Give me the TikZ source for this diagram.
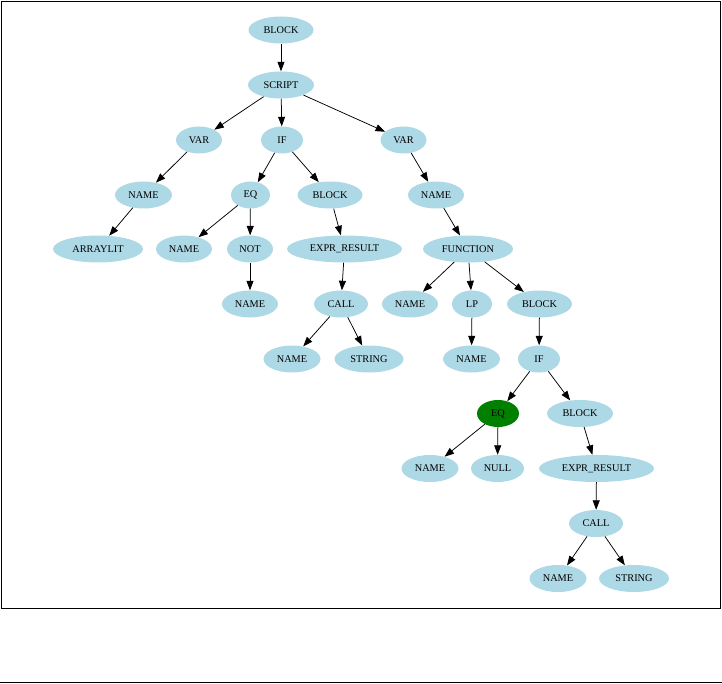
\documentclass[tikz,border=0pt]{standalone}
\usepackage{fontspec}
\setmainfont{Liberation Serif}
\usetikzlibrary{shapes.geometric,arrows.meta}
\definecolor{nodeblue}{HTML}{ADD8E6}
\definecolor{nodegreen}{HTML}{007F00}
\tikzset{
  tn/.style={ellipse, fill=nodeblue, draw=none, inner sep=0pt, minimum height=27pt, font=\fontsize{10.3}{12}\selectfont, text=black},
  gn/.style={tn, fill=nodegreen},
  edge/.style={draw=black, line width=0.75pt, -{Triangle[length=9.5pt,width=7pt]}},
}
\begin{document}
\begin{tikzpicture}[x=1pt,y=-1pt]
\useasboundingbox (0,0) rectangle (722,684);
\draw[line width=1.6pt] (1.5,1.5) rectangle (720.5,608.5);
\draw[line width=1.2pt] (0,682.5) -- (722,682.5);

\node[tn, minimum width=65pt] (b1) at (281,30) {BLOCK};
\node[tn, minimum width=66pt] (s) at (281,85) {SCRIPT};
\node[tn, minimum width=46pt] (v1) at (199,140) {VAR};
\node[tn, minimum width=42pt] (if1) at (282,140) {IF};
\node[tn, minimum width=46pt] (v2) at (403.5,140) {VAR};
\node[tn, minimum width=57pt] (n1) at (143.5,195) {NAME};
\node[tn, minimum width=39pt] (eq1) at (250.5,195) {EQ};
\node[tn, minimum width=65pt] (b2) at (330,195) {BLOCK};
\node[tn, minimum width=56pt] (n2) at (436,195) {NAME};
\node[tn, minimum width=90pt] (al) at (98,249) {ARRAYLIT};
\node[tn, minimum width=56pt] (n3) at (184,249) {NAME};
\node[tn, minimum width=46pt] (not) at (250,249) {NOT};
\node[tn, minimum width=115pt] (er1) at (344.5,249) {EXPR\_RESULT};
\node[tn, minimum width=90pt] (fn) at (468,249) {FUNCTION};
\node[tn, minimum width=56pt] (n4) at (250,304) {NAME};
\node[tn, minimum width=54pt] (c1) at (341,304) {CALL};
\node[tn, minimum width=56pt] (n5) at (410,304) {NAME};
\node[tn, minimum width=40pt] (lp) at (472,304) {LP};
\node[tn, minimum width=65pt] (b3) at (539.5,304) {BLOCK};
\node[tn, minimum width=57pt] (n6) at (292,359) {NAME};
\node[tn, minimum width=69pt] (st1) at (369,359) {STRING};
\node[tn, minimum width=57pt] (n7) at (471.5,359) {NAME};
\node[tn, minimum width=42pt] (if2) at (539,359) {IF};
\node[gn, minimum width=42pt] (eq2) at (498,413.5) {EQ};
\node[tn, minimum width=66pt] (b4) at (580,413.5) {BLOCK};
\node[tn, minimum width=57pt] (n8) at (430,468.5) {NAME};
\node[tn, minimum width=53pt] (nul) at (497.5,468.5) {NULL};
\node[tn, minimum width=115pt] (er2) at (596.5,468.5) {EXPR\_RESULT};
\node[tn, minimum width=54pt] (c2) at (596,523.5) {CALL};
\node[tn, minimum width=57pt] (n9) at (558,578.5) {NAME};
\node[tn, minimum width=70pt] (st2) at (634,578.5) {STRING};

\draw[edge] (b1) -- (s);
\draw[edge] (s) -- (v1);
\draw[edge] (s) -- (if1);
\draw[edge] (s) -- (v2);
\draw[edge] (v1) -- (n1);
\draw[edge] (if1) -- (eq1);
\draw[edge] (if1) -- (b2);
\draw[edge] (v2) -- (n2);
\draw[edge] (n1) -- (al);
\draw[edge] (eq1) -- (n3);
\draw[edge] (eq1) -- (not);
\draw[edge] (b2) -- (er1);
\draw[edge] (n2) -- (fn);
\draw[edge] (not) -- (n4);
\draw[edge] (er1) -- (c1);
\draw[edge] (fn) -- (n5);
\draw[edge] (fn) -- (lp);
\draw[edge] (fn) -- (b3);
\draw[edge] (c1) -- (n6);
\draw[edge] (c1) -- (st1);
\draw[edge] (lp) -- (n7);
\draw[edge] (b3) -- (if2);
\draw[edge] (if2) -- (eq2);
\draw[edge] (if2) -- (b4);
\draw[edge] (eq2) -- (n8);
\draw[edge] (eq2) -- (nul);
\draw[edge] (b4) -- (er2);
\draw[edge] (er2) -- (c2);
\draw[edge] (c2) -- (n9);
\draw[edge] (c2) -- (st2);
\end{tikzpicture}
\end{document}
